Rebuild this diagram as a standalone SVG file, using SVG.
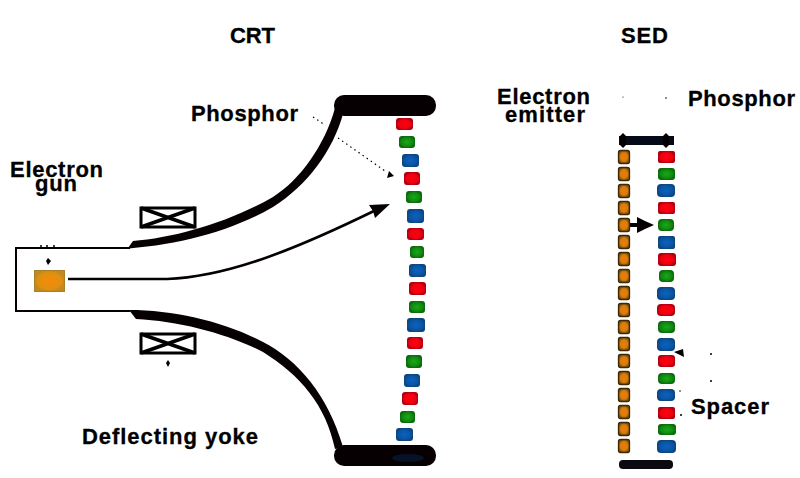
<svg xmlns="http://www.w3.org/2000/svg" width="800" height="478" viewBox="0 0 800 478">
  <style>
    text { font-family: "Liberation Sans", Arial, sans-serif; font-weight: bold; font-size: 22px; fill: #000; stroke: #000; stroke-width: 0.3; }
    .r { fill: url(#red); }
    .g { fill: url(#green); }
    .b { fill: url(#blue); }
    .o { fill: url(#orange); stroke: #3e2a08; stroke-width: 1.3; }
    .ink { fill: #060002; }
    .line { fill: none; stroke: #060002; stroke-width: 2; }
    .coil { fill: #fff; stroke: #000; stroke-width: 3; }
    .cross { stroke: #000; stroke-width: 3.5; }
    .dot { fill: #000; }
  </style>
  <defs>
    <radialGradient id="red"><stop offset="0" stop-color="#ff0010"/><stop offset="0.7" stop-color="#f0000f"/><stop offset="1" stop-color="#b00010"/></radialGradient>
    <radialGradient id="green"><stop offset="0" stop-color="#1aa81a"/><stop offset="0.7" stop-color="#108a10"/><stop offset="1" stop-color="#0b6a0b"/></radialGradient>
    <radialGradient id="blue"><stop offset="0" stop-color="#0a62c0"/><stop offset="0.7" stop-color="#0a55a5"/><stop offset="1" stop-color="#0c4680"/></radialGradient>
    <radialGradient id="orange"><stop offset="0" stop-color="#f07a08"/><stop offset="0.65" stop-color="#d87c0c"/><stop offset="1" stop-color="#7a5208"/></radialGradient>
    <radialGradient id="gun"><stop offset="0" stop-color="#f58a0a"/><stop offset="0.8" stop-color="#e0900f"/><stop offset="1" stop-color="#c08a20"/></radialGradient>
  </defs>

  <g id="titles">
    <text x="230" y="43" textLength="45">CRT</text>
    <text x="621" y="43" textLength="47">SED</text>
  </g>

  <g id="connectors">
    <!-- electron beam inside the tube -->
    <path d="M68 279 L167 279 C225 277 290 252 376 210" fill="none" stroke="#060002" stroke-width="2.6"/>
    <polygon class="ink" points="390,204 369,205 373,211 375,218"/>
    <!-- phosphor leader, dotted -->
    <path d="M313 117 L325 125 M338 138 L385 171" fill="none" stroke="#000" stroke-width="1.2" stroke-dasharray="1.5 3.5"/>
    <polygon class="dot" points="394,176 389,171 387,178"/>
    <!-- SED emission arrow -->
    <rect class="ink" x="628" y="223" width="12" height="4"/>
    <polygon class="ink" points="654,225 645,221 637,217 637,233 645,229"/>
    <!-- spacer pointer -->
    <polygon class="dot" points="674,352 683,349 684,357"/>
    <!-- gun and yoke marks -->
    <polygon class="dot" points="48,258 51,261 48,265 46,261"/>
    <polygon class="dot" points="168,360 170,363 168,367 166,363"/>
    <circle class="dot" cx="41" cy="246" r="1"/><circle class="dot" cx="47" cy="246" r="1"/><circle class="dot" cx="54" cy="246" r="1"/>
    <!-- stray marks around the spacer -->
    <circle class="dot" cx="711" cy="354" r="1"/><circle class="dot" cx="711" cy="381" r="1"/>
    <circle class="dot" cx="680" cy="391" r="0.8"/><circle class="dot" cx="681" cy="415" r="1"/>
    <circle class="dot" cx="623" cy="97" r="0.6"/><circle class="dot" cx="666" cy="98" r="0.8"/>
  </g>

  <g id="crt-tube">
    <path class="line" d="M130 248 L16 248 L16 311 L130 311"/>
    <!-- upper flare and faceplate rim -->
    <path class="ink" d="M120 249 L128 248 L133 241 C175 238 230 222 273 197 C300 180 325 145 335 108 L343 114 C333 150 308 185 273 207 C230 232 175 246 120 249 Z"/>
    <rect class="ink" x="334" y="95" width="102" height="21" rx="10"/>
    <!-- lower flare and faceplate rim -->
    <path class="ink" d="M129 310 C175 310 225 322 263 342 C298 360 328 395 343 447 L335 449 C326 405 300 375 263 352 C228 334 180 321 136 319 Z"/>
    <rect class="ink" x="334" y="445" width="102" height="21" rx="10"/>
    <ellipse cx="408" cy="458" rx="16" ry="4" fill="#071226"/>
  </g>

  <g id="electron-gun">
    <rect x="34.500" y="270.500" width="30" height="21" fill="url(#gun)" stroke="#a88028" stroke-width="1"/>
    <text x="10" y="177" textLength="93">Electron</text>
    <text x="35" y="191" textLength="42">gun</text>
  </g>

  <g id="deflecting-yoke">
    <g id="yoke-top">
      <rect class="coil" x="141" y="208" width="54" height="19"/>
      <path class="cross" d="M141 208 L195 227 M195 208 L141 227"/>
    </g>
    <g id="yoke-bottom">
      <rect class="coil" x="141" y="334" width="54" height="19"/>
      <path class="cross" d="M141 334 L195 353 M195 334 L141 353"/>
    </g>
    <text x="82" y="444" textLength="176">Deflecting yoke</text>
  </g>

  <g id="crt-phosphor">
    <text x="191" y="121" textLength="107">Phosphor</text>
    <rect class="r" x="396" y="118" width="17" height="12" rx="3"/>
    <rect class="g" x="399" y="136" width="16" height="12" rx="3"/>
    <rect class="b" x="402" y="154" width="17" height="13" rx="3"/>
    <rect class="r" x="404" y="172" width="16" height="13" rx="3"/>
    <rect class="g" x="406" y="191" width="16" height="12" rx="3"/>
    <rect class="b" x="407" y="209" width="17" height="14" rx="3"/>
    <rect class="r" x="407" y="228" width="17" height="12" rx="3"/>
    <rect class="g" x="410" y="246" width="14" height="12" rx="3"/>
    <rect class="b" x="409" y="264" width="17" height="13" rx="3"/>
    <rect class="r" x="409" y="282" width="17" height="13" rx="3"/>
    <rect class="g" x="409" y="301" width="16" height="12" rx="3"/>
    <rect class="b" x="407" y="318" width="18" height="14" rx="3"/>
    <rect class="r" x="407" y="337" width="16" height="12" rx="3"/>
    <rect class="g" x="406" y="355" width="16" height="13" rx="3"/>
    <rect class="b" x="404" y="374" width="16" height="13" rx="3"/>
    <rect class="r" x="402" y="392" width="16" height="13" rx="3"/>
    <rect class="g" x="400" y="411" width="15" height="12" rx="3"/>
    <rect class="b" x="396" y="428" width="17" height="13" rx="3"/>
  </g>

  <g id="sed-panel">
    <rect x="619" y="136" width="55" height="9" fill="#050a18"/>
    <polygon class="ink" points="623,133 626,136 626,145 623,148 620,145 620,136"/>
    <polygon class="ink" points="666,133 669,136 669,145 666,148 663,145 663,136"/>
    <rect x="619" y="460" width="54" height="9" rx="4" fill="#0a0a10"/>
  </g>

  <g id="electron-emitter">
    <text x="497" y="104" textLength="93">Electron</text>
    <text x="505" y="122" textLength="80">emitter</text>
    <rect class="o" x="618.500" y="150.500" width="11" height="13" rx="2"/>
    <rect class="o" x="618.500" y="167.500" width="11" height="13" rx="2"/>
    <rect class="o" x="618.500" y="184.500" width="11" height="13" rx="2"/>
    <rect class="o" x="618.500" y="201.500" width="11" height="13" rx="2"/>
    <rect class="o" x="618.500" y="218.500" width="11" height="13" rx="2"/>
    <rect class="o" x="618.500" y="235.500" width="11" height="13" rx="2"/>
    <rect class="o" x="618.500" y="252.500" width="11" height="13" rx="2"/>
    <rect class="o" x="618.500" y="269.500" width="11" height="13" rx="2"/>
    <rect class="o" x="618.500" y="286.500" width="11" height="13" rx="2"/>
    <rect class="o" x="618.500" y="303.500" width="11" height="13" rx="2"/>
    <rect class="o" x="618.500" y="320.500" width="11" height="13" rx="2"/>
    <rect class="o" x="618.500" y="337.500" width="11" height="13" rx="2"/>
    <rect class="o" x="618.500" y="354.500" width="11" height="13" rx="2"/>
    <rect class="o" x="618.500" y="371.500" width="11" height="13" rx="2"/>
    <rect class="o" x="618.500" y="388.500" width="11" height="13" rx="2"/>
    <rect class="o" x="618.500" y="405.500" width="11" height="13" rx="2"/>
    <rect class="o" x="618.500" y="422.500" width="11" height="13" rx="2"/>
    <rect class="o" x="618.500" y="439.500" width="11" height="13" rx="2"/>
  </g>

  <g id="sed-phosphor">
    <text x="688" y="106" textLength="107">Phosphor</text>
    <rect class="r" x="658" y="151" width="17" height="12" rx="2"/>
    <rect class="g" x="658" y="168" width="17" height="12" rx="3"/>
    <rect class="b" x="657" y="184" width="18" height="13" rx="4"/>
    <rect class="r" x="658" y="202" width="17" height="12" rx="2"/>
    <rect class="g" x="658" y="219" width="16" height="12" rx="4"/>
    <rect class="b" x="658" y="236" width="17" height="13" rx="2"/>
    <rect class="r" x="658" y="253" width="18" height="13" rx="3"/>
    <rect class="g" x="659" y="270" width="15" height="12" rx="4"/>
    <rect class="b" x="657" y="287" width="18" height="13" rx="4"/>
    <rect class="r" x="657" y="304" width="18" height="12" rx="4"/>
    <rect class="g" x="658" y="321" width="17" height="12" rx="4"/>
    <rect class="b" x="657" y="338" width="18" height="13" rx="4"/>
    <rect class="r" x="658" y="355" width="17" height="12" rx="3"/>
    <rect class="g" x="658" y="373" width="17" height="11" rx="4"/>
    <rect class="b" x="657" y="389" width="18" height="12" rx="4"/>
    <rect class="r" x="658" y="407" width="17" height="12" rx="2"/>
    <rect class="g" x="658" y="424" width="18" height="11" rx="3"/>
    <rect class="b" x="657" y="440" width="19" height="13" rx="4"/>
  </g>

  <g id="spacer">
    <text x="691" y="414" textLength="78">Spacer</text>
  </g>
</svg>
